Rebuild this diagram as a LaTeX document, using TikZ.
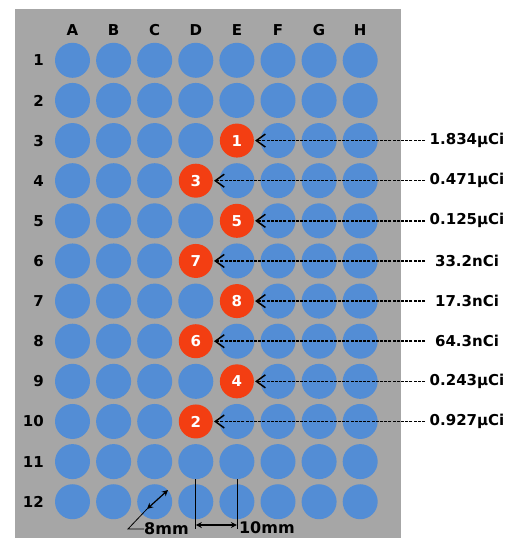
\documentclass[tikz,border=0pt]{standalone}
\usepackage{fontspec}
\setmainfont{DejaVu Sans}
\usetikzlibrary{arrows.meta}
\definecolor{plate}{RGB}{166,166,166}
\definecolor{well}{RGB}{83,141,213}
\definecolor{hot}{RGB}{243,62,18}
\begin{document}
\begin{tikzpicture}[x=1pt,y=-1pt,
  wellc/.style={circle,fill=well,minimum size=35pt,inner sep=0pt},
  hotc/.style={circle,fill=hot,minimum size=34pt,inner sep=0pt,text=white,font=\bfseries\fontsize{15}{15}\selectfont},
  hdr/.style={font=\bfseries\fontsize{15}{15}\selectfont,inner sep=0pt},
  val/.style={font=\bfseries\fontsize{15}{15}\selectfont,inner sep=1pt},
  dimtxt/.style={font=\bfseries\fontsize{16}{16}\selectfont,inner sep=0pt},
  lead/.style={draw=black,line width=1.6pt,dash pattern=on 3pt off 1.2pt,-{Straight Barb[length=9pt,width=13pt,line width=1.5pt]}},
  dimarrow/.style={line width=1.2pt,{Stealth[length=6pt,width=6pt]}-{Stealth[length=6pt,width=6pt]}},
  thinline/.style={line width=0.8pt}]
\useasboundingbox (0,0) rectangle (517,542);
\fill[white] (0,0) rectangle (517,542);
\fill[plate] (15,9) rectangle (401,538);
% column letters
\foreach \c [count=\i from 0] in {A,B,C,D,E,F,G,H}
  \node[hdr] (col\c) at ({72.5+41.1*\i},30) {\c};
% row numbers
\foreach \r in {1,...,12}
  \node[hdr,anchor=east] (row\r) at (44,{60.3+40.13*(\r-1)}) {\r};
% blue wells
\foreach \r in {1,...,12}{
  \foreach \c in {0,...,7}{
    \pgfmathtruncatemacro\hc{ifthenelse(mod(\r,2)==1,4,3)}
    \pgfmathtruncatemacro\isred{(\r>2)*(\r<11)*(\c==\hc)}
    \ifnum\isred=0
      \node[wellc] (w\r-\c) at ({72.5+41.1*\c},{60.3+40.13*(\r-1)}) {};
    \fi
  }
}
% hot wells
\foreach \r/\c/\n in {3/4/1,4/3/3,5/4/5,6/3/7,7/4/8,8/3/6,9/4/4,10/3/2}
  \node[hotc] (h\r) at ({72.5+41.1*\c},{60.3+40.13*(\r-1)}) {\n};
% activity labels and leaders
\foreach \r/\t in {3/1.834μCi,4/0.471μCi,5/0.125μCi,6/33.2nCi,7/17.3nCi,8/64.3nCi,9/0.243μCi,10/0.927μCi}{
  \node[val] (v\r) at (467,{60.3+40.13*(\r-1)}) {\t};
  \coordinate (s\r) at (425,{60.3+40.13*(\r-1)});
  \draw[lead] (s\r) -- ([xshift=1pt]h\r.east);
}
% 8 mm diameter annotation
\coordinate (d1) at (147,509);
\coordinate (d2) at (168,490);
\coordinate (d0) at (128,529);
\coordinate (d3) at (144,529);
\draw[dimarrow] (d1) -- (d2);
\draw[thinline] (d1) -- (d0) -- (d3);
\node[dimtxt,anchor=west] (t8) at (d3) {8mm};
% 10 mm pitch annotation
\coordinate (m1) at (w11-3.south |- 0,529);
\coordinate (m2) at (w11-4.south |- 0,529);
\draw[thinline] (w11-3.south) -- (m1);
\draw[thinline] (w11-4.south) -- (m2);
\coordinate (a1) at (w11-3.south |- 0,525);
\coordinate (a2) at (w11-4.south |- 0,525);
\draw[dimarrow] (a1) -- (a2);
\node[dimtxt,anchor=west] (t10) at ([xshift=2pt]m2 |- 0,528) {10mm};
\end{tikzpicture}
\end{document}
